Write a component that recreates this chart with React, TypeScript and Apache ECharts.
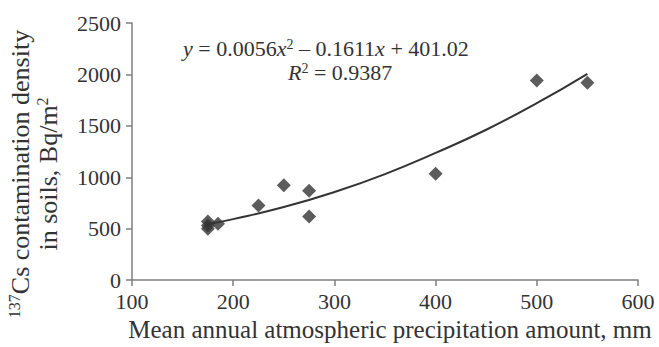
import React, { useEffect, useRef } from "react";
import * as echarts from "echarts";

const precipitation = [175, 175, 175, 185, 225, 250, 275, 275, 400, 500, 550];
const contamination = [570, 530, 500, 548, 725, 923, 869, 619, 1035, 1940, 1920];

const trendX = [175, 200, 250, 300, 350, 400, 450, 500, 550];
const trendY = [544, 593, 710, 856, 1031, 1237, 1462, 1720, 2006];

const xTicks = { min: 100, max: 600, interval: 100 };
const yTicks = { min: 0, max: 2500, interval: 500 };

const FONT = "Liberation Serif";
const TEXT = "#333333";

export default function App() {
  const ref = useRef<HTMLDivElement>(null);
  useEffect(() => {
    if (!ref.current) return;
    const chart = echarts.init(ref.current, undefined, { renderer: "svg" });
    const supRich = {
      i: { fontStyle: "italic", fontSize: 22, lineHeight: 22, fontFamily: FONT, fill: TEXT, color: TEXT },
      sup: { fontSize: 14, lineHeight: 14, fontFamily: FONT, verticalAlign: "top", fill: TEXT, color: TEXT, padding: [0, 0, 8, 0] },
      n: { fontSize: 22, lineHeight: 22, fontFamily: FONT, fill: TEXT, color: TEXT },
    };
    const ySup = {
      n: { fontSize: 26, lineHeight: 28, fontFamily: FONT, fill: TEXT, color: TEXT },
      sup: { fontSize: 16, lineHeight: 16, fontFamily: FONT, verticalAlign: "top", fill: TEXT, color: TEXT, padding: [0, 0, 10, 0] },
    };
    chart.setOption({
      animation: false,
      backgroundColor: "#ffffff",
      grid: { left: 132, right: 21, top: 23, bottom: 64, containLabel: false },
      xAxis: {
        type: "value",
        min: xTicks.min,
        max: xTicks.max,
        interval: xTicks.interval,
        name: "Mean annual atmospheric precipitation amount, mm",
        nameLocation: "middle",
        nameGap: 32,
        nameTextStyle: { fontFamily: FONT, fontSize: 25, color: TEXT, padding: [0, 0, 0, 10] },
        axisLine: { show: true, lineStyle: { color: "#7f7f7f", width: 1.5 } },
        axisTick: { show: true, inside: false, length: 6, lineStyle: { color: "#7f7f7f", width: 1.5 } },
        axisLabel: { fontFamily: FONT, fontSize: 22, color: TEXT, margin: 10, formatter: (v: number) => String(v) },
        splitLine: { show: false },
      },
      yAxis: {
        type: "value",
        min: yTicks.min,
        max: yTicks.max,
        interval: yTicks.interval,
        axisLine: { show: true, lineStyle: { color: "#7f7f7f", width: 1.5 } },
        axisTick: { show: true, inside: false, length: 6, lineStyle: { color: "#7f7f7f", width: 1.5 } },
        axisLabel: { fontFamily: FONT, fontSize: 22, color: TEXT, margin: 11, formatter: (v: number) => String(v) },
        splitLine: { show: false },
      },
      series: [
        {
          type: "line",
          data: trendX.map((x, i) => [x, trendY[i]]),
          smooth: true,
          showSymbol: false,
          symbol: "none",
          lineStyle: { color: "#333333", width: 2 },
          z: 1,
        },
        {
          type: "scatter",
          data: precipitation.map((x, i) => [x, contamination[i]]),
          symbol: "diamond",
          symbolSize: 14,
          itemStyle: { color: "#333333" },
          z: 2,
        },
      ],
      graphic: [
        {
          type: "text",
          x: 183,
          y: 48,
          style: {
            text: "{i|y}{n| = 0.0056}{i|x}{sup|2}{n| – 0.1611}{i|x}{n| + 401.02}",
            rich: supRich,
            fontFamily: FONT,
            fontSize: 22,
            fill: TEXT,
            textAlign: "left",
            textVerticalAlign: "middle",
          },
        },
        {
          type: "text",
          x: 288,
          y: 72,
          style: {
            text: "{i|R}{sup|2}{n| = 0.9387}",
            rich: supRich,
            fontFamily: FONT,
            fontSize: 22,
            fill: TEXT,
            textAlign: "left",
            textVerticalAlign: "middle",
          },
        },
        {
          type: "text",
          x: 34,
          y: 174,
          rotation: Math.PI / 2,
          style: {
            text: "{sup|137}{n|Cs contamination density}\n{n|in soils, Bq/m}{sup|2}",
            rich: ySup,
            fontFamily: FONT,
            fontSize: 26,
            fill: TEXT,
            textAlign: "center",
            textVerticalAlign: "middle",
          },
        },
      ],
    });
    return () => chart.dispose();
  }, []);
  return (
    <div
      ref={ref}
      style={{ position: "fixed", left: 0, top: 0, width: 659, height: 347 }}
    />
  );
}
